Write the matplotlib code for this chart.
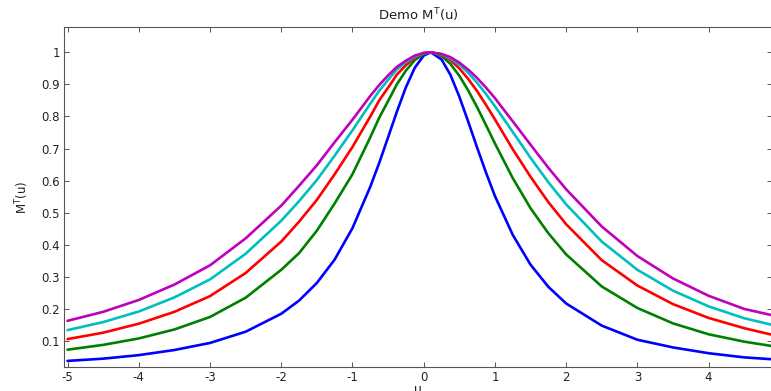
import matplotlib
matplotlib.use("Agg")
import matplotlib.pyplot as plt

u = [-5, -4.5, -4, -3.5, -3, -2.5, -2, -1.75, -1.5, -1.25,
     -1, -0.75, -0.625, -0.5, -0.375, -0.25, -0.125, 0, 0.1, 0.25,
     0.375, 0.5, 0.625, 0.75, 0.875, 1, 1.25, 1.5, 1.75, 2,
     2.5, 3, 3.5, 4, 4.5, 4.9]

blue = [0.038, 0.045, 0.056, 0.072, 0.094, 0.129, 0.185, 0.226, 0.281, 0.354,
        0.452, 0.581, 0.655, 0.735, 0.816, 0.891, 0.952, 0.990, 1.0, 0.978,
        0.930, 0.862, 0.784, 0.703, 0.625, 0.552, 0.431, 0.338, 0.269, 0.217,
        0.148, 0.104, 0.080, 0.062, 0.049, 0.043]
green = [0.073, 0.088, 0.108, 0.136, 0.175, 0.235, 0.322, 0.374, 0.444, 0.529,
         0.620, 0.735, 0.796, 0.848, 0.901, 0.943, 0.976, 0.995, 1.0, 0.989,
         0.964, 0.927, 0.881, 0.829, 0.773, 0.716, 0.608, 0.514, 0.436, 0.370,
         0.270, 0.203, 0.155, 0.121, 0.098, 0.084]
red = [0.106, 0.126, 0.154, 0.191, 0.240, 0.312, 0.410, 0.472, 0.540, 0.620,
       0.705, 0.800, 0.850, 0.890, 0.931, 0.960, 0.984, 0.998, 1.0, 0.993,
       0.976, 0.950, 0.917, 0.879, 0.836, 0.791, 0.698, 0.612, 0.533, 0.464,
       0.352, 0.273, 0.215, 0.172, 0.140, 0.119]
cyan = [0.134, 0.159, 0.192, 0.236, 0.292, 0.372, 0.475, 0.536, 0.602, 0.678,
        0.757, 0.840, 0.880, 0.914, 0.947, 0.969, 0.987, 0.997, 1.0, 0.994,
        0.981, 0.962, 0.936, 0.905, 0.870, 0.832, 0.752, 0.671, 0.595, 0.526,
        0.410, 0.322, 0.257, 0.208, 0.171, 0.150]
magenta = [0.163, 0.191, 0.228, 0.276, 0.336, 0.420, 0.522, 0.584, 0.648, 0.720,
           0.790, 0.864, 0.898, 0.928, 0.955, 0.974, 0.990, 0.998, 1.0, 0.995,
           0.985, 0.968, 0.946, 0.920, 0.890, 0.857, 0.785, 0.712, 0.640, 0.573,
           0.457, 0.365, 0.295, 0.241, 0.200, 0.180]

series = [blue, green, red, cyan, magenta]
colors = ["#0000ff", "#008000", "#ff0000", "#00bfbf", "#bf00bf"]

xticks = [-5, -4, -3, -2, -1, 0, 1, 2, 3, 4]
yticks = [0.1, 0.2, 0.3, 0.4, 0.5, 0.6, 0.7, 0.8, 0.9, 1]
ytick_labels = ["0.1", "0.2", "0.3", "0.4", "0.5", "0.6", "0.7", "0.8", "0.9", "1"]

W, H = 771, 391
fig = plt.figure(figsize=(W / 100, H / 100), dpi=100)
ax = fig.add_axes([64 / W, 24 / H, (772 - 64) / W, (367 - 27) / H])

for ys, c in zip(series, colors):
    ax.plot(u, ys, color=c, lw=1.9, solid_joinstyle="round", solid_capstyle="round")

ax.set_xlim(-5.05, 4.89)
ax.set_ylim(0.019, 1.079)
ax.set_xticks(xticks)
ax.set_xticklabels([str(t) for t in xticks])
ax.set_yticks(yticks)
ax.set_yticklabels(ytick_labels)

spine_col = "#555555"
for s in ax.spines.values():
    s.set_color(spine_col)
    s.set_linewidth(0.8)
ax.tick_params(direction="in", length=3.5, width=0.7, colors=spine_col,
               labelcolor="#222222", labelsize=8.5, top=True, right=True, pad=3)

ax.set_title("Demo M$^\\mathregular{T}$(u)", fontsize=9.5, color="#222222", pad=5)
ax.set_ylabel("M$^\\mathregular{T}$(u)", fontsize=8.5, color="#222222", labelpad=7)
ax.set_xlabel("u", fontsize=9, color="#222222", labelpad=-1)

fig.savefig("out.png", dpi=100)
